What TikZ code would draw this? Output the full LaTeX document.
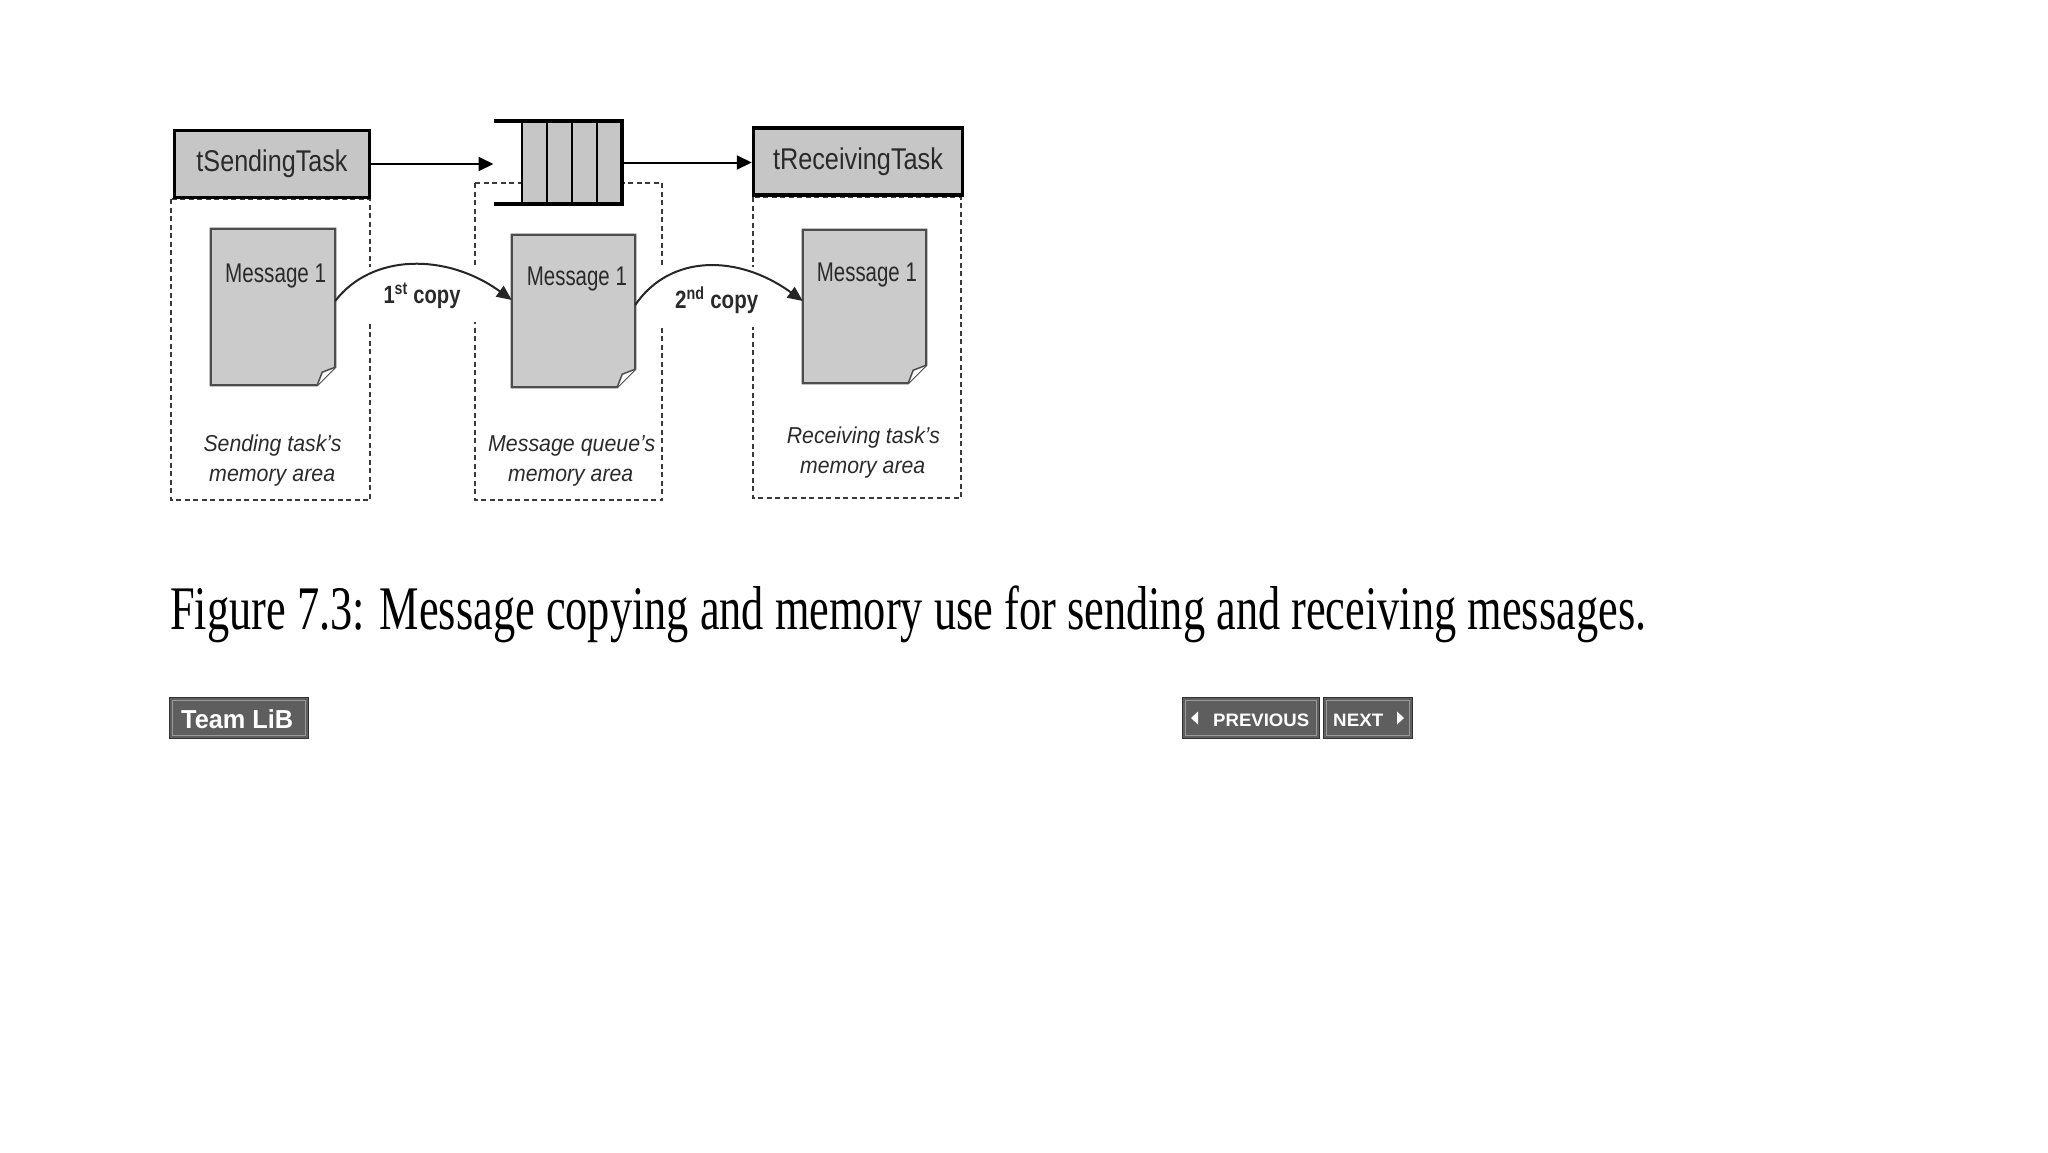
\documentclass[tikz,border=0pt]{standalone}
\usepackage{fontspec}
\setmainfont{Liberation Sans}
\newfontfamily\capfont{Liberation Serif}
\usetikzlibrary{arrows.meta}
\definecolor{boxgrey}{HTML}{C6C6C6}
\definecolor{docgrey}{HTML}{CBCBCB}
\definecolor{dashgrey}{HTML}{3A3A3A}
\definecolor{inkgrey}{HTML}{2A2A2A}
\definecolor{btnfill}{HTML}{5E5E5E}
\definecolor{btnline}{HTML}{9A9A9A}
\newcommand{\fw}[2]{\resizebox{#1pt}{\height}{#2}}
\newcommand{\docpath}[1]{%
  \filldraw[docstyle] (#1.north west) -- (#1.north east) -- ([yshift=18pt]#1.south east)
    -- ([xshift=-18pt]#1.south east) -- (#1.south west) -- cycle;
  \filldraw[foldstyle] ([yshift=18pt]#1.south east) -- ([shift={(-13pt,13pt)}]#1.south east)
    -- ([xshift=-18pt]#1.south east);}
\begin{document}
\begin{tikzpicture}[x=1pt,y=-1pt,
  region/.style={draw=dashgrey, line width=2pt, dash pattern=on 5pt off 3.5pt},
  taskbox/.style={draw=black, line width=3.5pt, fill=boxgrey, inner sep=0pt, text=inkgrey},
  qfill/.style={fill=boxgrey, inner sep=0pt},
  qline/.style={draw=black, line width=3.5pt},
  qdiv/.style={draw=black, line width=2pt},
  flow/.style={draw=black, line width=2pt, -{Triangle[length=15pt,width=14pt]}},
  copyflow/.style={draw=black!85, line width=2pt, -{Triangle[length=15pt,width=13pt]}},
  docnode/.style={inner sep=0pt},
  docstyle/.style={draw=black!70, line width=2.2pt, fill=docgrey},
  foldstyle/.style={draw=black!70, line width=1.5pt, fill=white!90!docgrey},
  txt/.style={inner sep=0pt, anchor=base west, text=inkgrey},
  btn/.style={draw=black!80, line width=1.5pt, fill=btnfill, inner sep=0pt},
  btntxt/.style={inner sep=0pt, anchor=base west, text=white}
]
\useasboundingbox (0,0) rectangle (2048,1152);

% memory areas
\draw[region] (171,199) rectangle (370,500);
\draw[region] (475,183) rectangle (662,500);
\draw[region] (753,197) rectangle (961,498);
\fill[white] (362,267) rectangle (486,322);
\fill[white] (650,267) rectangle (766,327);

% tasks
\node[taskbox, minimum width=195pt, minimum height=67pt] (send) at (272,164)
  {\fw{151}{\fontsize{30}{36}\selectfont tSendingTask}};
\node[taskbox, minimum width=209pt, minimum height=67pt] (recv) at (858,161.5)
  {\fw{170}{\fontsize{30}{36}\selectfont tReceivingTask}};

% queue
\node[qfill, minimum width=100pt, minimum height=83pt] (queue) at (571.7,162.5) {};
\foreach \i in {1,2,3} {
  \draw[qdiv] ([xshift=\i*25pt]queue.north west) -- ([xshift=\i*25pt]queue.south west);
}
\draw[qdiv] (queue.north west) -- (queue.south west);
\draw[qline] ([xshift=-28pt]queue.north west) -- (queue.north east) -- (queue.south east)
  -- ([xshift=-28pt]queue.south west);
\coordinate (qin) at ([xshift=-28pt]queue.west);

\draw[flow] (send.east) -- (send.east -| qin);
\draw[flow] (queue.east) -- (queue.east -| recv.west);

% messages
\node[docnode, minimum width=124pt, minimum height=156pt] (msgA) at (273,307) {};
\node[docnode, minimum width=123pt, minimum height=152pt] (msgB) at (573.5,311) {};
\node[docnode, minimum width=123pt, minimum height=153pt] (msgC) at (864.5,306.5) {};
\docpath{msgA}
\docpath{msgB}
\docpath{msgC}
\node[txt] (msgAt) at (225,282.7) {\fw{101}{\fontsize{27}{32}\selectfont Message 1}};
\node[txt] (msgBt) at (526.7,285) {\fw{100}{\fontsize{27}{32}\selectfont Message 1}};
\node[txt] (msgCt) at (816.7,281.7) {\fw{100}{\fontsize{27}{32}\selectfont Message 1}};

% copies
\draw[copyflow] ([yshift=6pt]msgA.east) .. controls (372,253) and (447,253) .. ([yshift=11pt]msgB.west);
\draw[copyflow] ([yshift=6pt]msgB.east) .. controls (670,254) and (738,254) .. ([yshift=5.5pt]msgC.west);
\node[txt] (copy1) at (383.3,303.3) {\fw{77}{\fontsize{25}{30}\selectfont\bfseries 1\textsuperscript{st} copy}};
\node[txt] (copy2) at (675,308.3) {\fw{83}{\fontsize{25}{30}\selectfont\bfseries 2\textsuperscript{nd} copy}};

% area labels
\node[txt] (la1) at (203.3,451.7) {\fw{138}{\fontsize{23}{28}\selectfont\itshape Sending task's}};
\node[txt] (la2) at (209,481) {\fw{126}{\fontsize{23}{28}\selectfont\itshape memory area}};
\node[txt] (lb1) at (488,451.5) {\fw{167}{\fontsize{23}{28}\selectfont\itshape Message queue's}};
\node[txt] (lb2) at (508,481) {\fw{125}{\fontsize{23}{28}\selectfont\itshape memory area}};
\node[txt] (lc1) at (786.7,443.3) {\fw{153}{\fontsize{23}{28}\selectfont\itshape Receiving task's}};
\node[txt] (lc2) at (800,473) {\fw{125}{\fontsize{23}{28}\selectfont\itshape memory area}};

% caption
\node[inner sep=0pt, anchor=base west] (cap) at (170,629)
  {\fw{1476}{\capfont\fontsize{62}{70}\selectfont Figure 7.3: Message copying and memory use for sending and receiving messages.}};

% buttons
\node[btn, minimum width=139pt, minimum height=41pt] (team) at (239,718) {};
\node[btn, minimum width=137pt, minimum height=41pt] (prev) at (1251,718) {};
\node[btn, minimum width=89pt, minimum height=41pt] (next) at (1368,718) {};
\foreach \b in {team,prev,next} {
  \draw[btnline, line width=1.2pt] ([shift={(3.5pt,-3.5pt)}]\b.north west) rectangle ([shift={(-3.5pt,3.5pt)}]\b.south east);
}
\node[btntxt] (teamt) at (181,728) {\fw{112}{\fontsize{26}{30}\selectfont\bfseries Team LiB}};
\node[btntxt] (prevt) at (1213,726.5) {\fw{96}{\fontsize{18}{22}\selectfont\bfseries PREVIOUS}};
\node[btntxt] (nextt) at (1333,726.5) {\fw{50}{\fontsize{18}{22}\selectfont\bfseries NEXT}};
\fill[white] (1191,718) -- (1198,711.5) -- (1198,724.5) -- cycle;
\fill[white] (1404,718) -- (1397,711.5) -- (1397,724.5) -- cycle;
\end{tikzpicture}
\end{document}
